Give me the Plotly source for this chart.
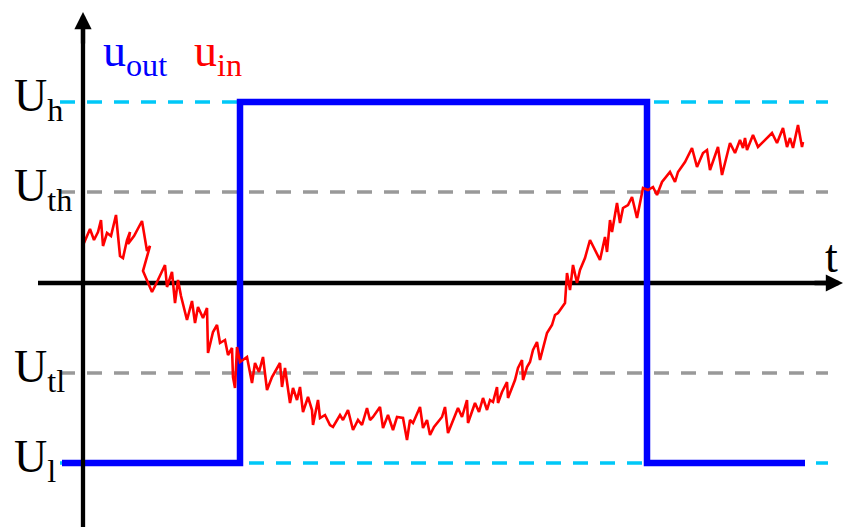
import plotly.graph_objects as go

# Threshold and output levels (arbitrary units, zero on the time axis)
U_H = 181
U_TH = 91
U_TL = -90
U_L = -180

# Switching instants of the comparator output
T_START = -21
T_RISE = 157
T_FALL = 564
T_END = 722

# Noisy input signal u_in(t)
t_in = [1, 7, 11, 15, 18, 20, 24, 28, 33, 37, 40, 44, 47, 45, 51, 59, 64, 67, 60, 69,
        74, 79, 82, 84, 89, 92, 95, 98, 100, 104, 109, 112, 115, 120, 124, 125, 130, 134, 137, 142,
        145, 149, 150, 152, 154, 157, 164, 169, 172, 176, 180, 184, 189, 197, 199, 202, 207, 210, 214, 217,
        220, 225, 229, 230, 235, 237, 242, 247, 250, 257, 260, 265, 270, 275, 279, 284, 287, 290, 297, 300,
        305, 310, 314, 320, 324, 327, 330, 333, 337, 340, 344, 347, 351, 359, 362, 365, 370, 375, 379, 384,
        385, 392, 396, 400, 404, 407, 410, 414, 415, 419, 424, 425, 432, 435, 439, 440, 444, 447, 450, 454,
        457, 464, 469, 472, 475, 479, 482, 484, 487, 490, 494, 497, 502, 507, 512, 517, 522, 524, 527, 529,
        534, 537, 540, 545, 549, 554, 557, 560, 565, 570, 574, 579, 587, 592, 595, 602, 609, 614, 620, 624,
        627, 635, 639, 647, 652, 657, 660, 662, 664, 670, 675, 682, 689, 694, 700, 704, 707, 710, 715, 719,
        720]
u_in = [40, 54, 43, 51, 63, 37, 50, 47, 68, 27, 25, 43, 51, 39, 47, 62, 32, 37, 12, -9,
        1, 11, 18, -4, 11, -20, 3, -13, -22, -37, -18, -40, -24, -35, -25, -70, -49, -42, -60, -57,
        -72, -65, -94, -105, -64, -79, -74, -100, -80, -89, -74, -107, -94, -80, -104, -85, -120, -105, -117, -104,
        -129, -114, -127, -142, -117, -135, -132, -142, -144, -132, -137, -127, -147, -137, -142, -125, -137, -134, -124, -145,
        -132, -147, -134, -135, -157, -137, -140, -133, -124, -145, -137, -152, -144, -134, -124, -150, -137, -125, -134, -117,
        -140, -120, -129, -115, -127, -117, -119, -104, -120, -109, -99, -115, -97, -85, -77, -97, -84, -79, -67, -59,
        -77, -50, -42, -32, -30, -24, -20, 10, -7, 18, 0, 13, 25, 43, 33, 23, 46, 31, 63, 51,
        80, 60, 75, 78, 86, 65, 80, 95, 93, 96, 88, 101, 111, 101, 111, 121, 135, 116, 130, 133,
        113, 136, 108, 140, 130, 143, 135, 145, 133, 148, 136, 143, 150, 140, 155, 136, 145, 135, 158, 136,
        141]

# Square-wave output u_out(t)
t_out = [T_START, T_RISE, T_RISE, T_FALL, T_FALL, T_END]
u_out = [U_L, U_L, U_H, U_H, U_L, U_L]

# Level labels on the vertical axis
level_values = [U_H, U_TH, U_TL, U_L]
level_labels = ["U<sub>h</sub>", "U<sub>th</sub>", "U<sub>tl</sub>", "U<sub>l</sub>"]
level_colors = ["#00c8f8", "#999999", "#999999", "#00c8f8"]

X_MIN, X_MAX = -83, 760
Y_MIN, Y_MAX = -244, 283
DASH_X0, DASH_X1 = -23, 745

SERIF = "Liberation Serif, Times New Roman, serif"

fig = go.Figure()

# dashed reference levels
for lv, col in zip(level_values, level_colors):
    fig.add_trace(go.Scatter(x=[DASH_X0, DASH_X1], y=[lv, lv], mode="lines",
                             line=dict(color=col, width=3.5, dash="15px,12px"),
                             hoverinfo="skip", showlegend=False))

# time axis
fig.add_trace(go.Scatter(x=[-45, X_MAX - 12], y=[0, 0], mode="lines",
                         line=dict(color="black", width=4.3),
                         hoverinfo="skip", showlegend=False))

# output
fig.add_trace(go.Scatter(x=t_out, y=u_out, mode="lines",
                         line=dict(color="#0000ff", width=6.5, shape="linear"),
                         showlegend=False))

# input
fig.add_trace(go.Scatter(x=t_in, y=u_in, mode="lines",
                         line=dict(color="#ff0000", width=2.6),
                         showlegend=False))

# voltage axis
fig.add_trace(go.Scatter(x=[0, 0], y=[Y_MIN, Y_MAX - 20], mode="lines",
                         line=dict(color="black", width=4.3),
                         hoverinfo="skip", showlegend=False))

annotations = []
# arrow heads
annotations.append(dict(x=X_MAX, y=0, ax=X_MAX - 30, ay=0, xref="x", yref="y",
                        axref="x", ayref="y", text="", showarrow=True,
                        arrowhead=2, arrowsize=0.8, arrowwidth=4.3, arrowcolor="black",
                        standoff=0))
annotations.append(dict(x=0, y=Y_MAX - 12, ax=0, ay=Y_MAX - 45, xref="x", yref="y",
                        axref="x", ayref="y", text="", showarrow=True,
                        arrowhead=2, arrowsize=0.8, arrowwidth=4.3, arrowcolor="black",
                        standoff=0))

# level labels
for lv, lab in zip(level_values, level_labels):
    annotations.append(dict(x=-71, y=lv + 3, xref="x", yref="y", text=lab,
                            showarrow=False, xanchor="left", yanchor="middle",
                            font=dict(family=SERIF, size=46, color="black")))

# axis name
annotations.append(dict(x=X_MAX - 12, y=27, xref="x", yref="y", text="t",
                        showarrow=False, xanchor="center", yanchor="middle",
                        font=dict(family=SERIF, size=46, color="black")))

# series names
annotations.append(dict(x=18, y=229, xref="x", yref="y", text="u<sub>out</sub>",
                        showarrow=False, xanchor="left", yanchor="middle",
                        font=dict(family=SERIF, size=46, color="#0000ff")))
annotations.append(dict(x=109, y=229, xref="x", yref="y", text="u<sub>in</sub>",
                        showarrow=False, xanchor="left", yanchor="middle",
                        font=dict(family=SERIF, size=46, color="#ff0000")))

fig.update_layout(
    width=843, height=527,
    margin=dict(l=0, r=0, t=0, b=0),
    paper_bgcolor="white", plot_bgcolor="white",
    xaxis=dict(range=[X_MIN, X_MAX], visible=False, fixedrange=True),
    yaxis=dict(range=[Y_MIN, Y_MAX], visible=False, fixedrange=True),
    annotations=annotations,
    showlegend=False,
)

fig.write_html("out.html")
